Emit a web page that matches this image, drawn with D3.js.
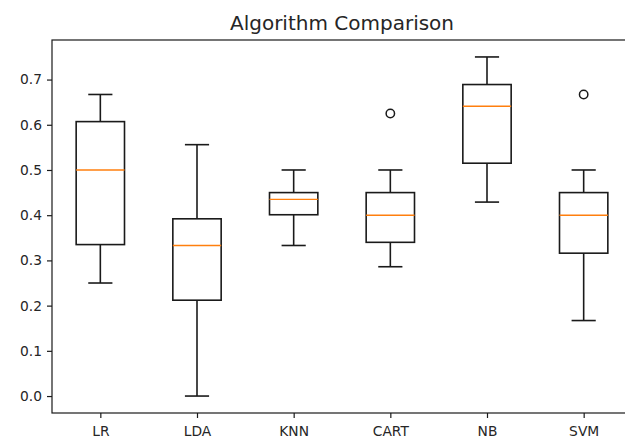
<!DOCTYPE html>
<html>
<head>
<meta charset="utf-8">
<script src="https://cdn.jsdelivr.net/npm/d3@7"></script>
<style>
  html, body { margin: 0; padding: 0; background: #fff; }
  svg { display: block; }
  text { font-family: "DejaVu Sans", sans-serif; fill: #262626; }
</style>
</head>
<body>
<script>
const title = "Algorithm Comparison";
const categories = ["LR", "LDA", "KNN", "CART", "NB", "SVM"];
const whiskerLow  = [0.250, 0.000, 0.333, 0.286, 0.429, 0.167];
const q1          = [0.335, 0.212, 0.401, 0.340, 0.515, 0.316];
const medians     = [0.500, 0.333, 0.435, 0.400, 0.641, 0.400];
const q3          = [0.607, 0.392, 0.450, 0.450, 0.689, 0.450];
const whiskerHigh = [0.667, 0.556, 0.500, 0.500, 0.750, 0.500];
const outliers    = [[], [], [], [0.625], [], [0.667]];
const yTicks = [0.0, 0.1, 0.2, 0.3, 0.4, 0.5, 0.6, 0.7];

const W = 625, H = 441;
const margin = { left: 52, right: -7, top: 40, bottom: 28 };

const svg = d3.select("body").append("svg").attr("width", W).attr("height", H);

const x = d3.scaleLinear().domain([0.5, 6.5]).range([margin.left, W - margin.right]);
const y = d3.scaleLinear().domain([-0.0375, 0.7875]).range([H - margin.bottom, margin.top]);

const data = categories.map((c, i) => ({
  c, i: i + 1, lo: whiskerLow[i], q1: q1[i], med: medians[i], q3: q3[i], hi: whiskerHigh[i], out: outliers[i]
}));

const boxW = x(1.25) - x(1);   // half box width (box width 0.5)
const capW = boxW / 2;
const lw = 1.6;
const stroke = "#1a1a1a";

const g = svg.append("g");
const groups = g.selectAll("g.box").data(data).enter().append("g").attr("class", "box");

// whiskers
groups.append("line")
  .attr("x1", d => x(d.i)).attr("x2", d => x(d.i))
  .attr("y1", d => y(d.q3)).attr("y2", d => y(d.hi))
  .attr("stroke", stroke).attr("stroke-width", lw);
groups.append("line")
  .attr("x1", d => x(d.i)).attr("x2", d => x(d.i))
  .attr("y1", d => y(d.q1)).attr("y2", d => y(d.lo))
  .attr("stroke", stroke).attr("stroke-width", lw);
// caps
groups.append("line")
  .attr("x1", d => x(d.i) - capW).attr("x2", d => x(d.i) + capW)
  .attr("y1", d => y(d.hi)).attr("y2", d => y(d.hi))
  .attr("stroke", stroke).attr("stroke-width", lw);
groups.append("line")
  .attr("x1", d => x(d.i) - capW).attr("x2", d => x(d.i) + capW)
  .attr("y1", d => y(d.lo)).attr("y2", d => y(d.lo))
  .attr("stroke", stroke).attr("stroke-width", lw);
// boxes
groups.append("rect")
  .attr("x", d => x(d.i) - boxW).attr("width", 2 * boxW)
  .attr("y", d => y(d.q3)).attr("height", d => y(d.q1) - y(d.q3))
  .attr("fill", "none").attr("stroke", stroke).attr("stroke-width", lw);
// medians
groups.append("line")
  .attr("x1", d => x(d.i) - boxW).attr("x2", d => x(d.i) + boxW)
  .attr("y1", d => y(d.med)).attr("y2", d => y(d.med))
  .attr("stroke", "#ff7f0e").attr("stroke-width", 1.4);
// outliers
groups.selectAll("circle").data(d => d.out.map(v => ({ i: d.i, v }))).enter().append("circle")
  .attr("cx", d => x(d.i)).attr("cy", d => y(d.v)).attr("r", 4.2)
  .attr("fill", "none").attr("stroke", stroke).attr("stroke-width", 1.5);

// axes
const yAxis = d3.axisLeft(y).tickValues(yTicks).tickFormat(d3.format(".1f")).tickSize(5).tickPadding(5);
const xAxis = d3.axisBottom(x).tickValues(data.map(d => d.i)).tickFormat((d, i) => categories[i]).tickSize(5).tickPadding(8);

const ya = svg.append("g").attr("transform", `translate(${margin.left},0)`).call(yAxis);
const xa = svg.append("g").attr("transform", `translate(0,${H - margin.bottom})`).call(xAxis);
[ya, xa].forEach(a => {
  a.select(".domain").remove();
  a.selectAll(".tick line").attr("stroke", stroke).attr("stroke-width", 1.2);
  a.selectAll(".tick text").style("font-size", "13.8px").style("font-family", "DejaVu Sans").attr("fill", "#262626");
});

// spines
const x0 = margin.left, x1 = W - margin.right, y0 = margin.top, y1 = H - margin.bottom;
svg.append("rect").attr("x", x0).attr("y", y0).attr("width", x1 - x0).attr("height", y1 - y0)
  .attr("fill", "none").attr("stroke", stroke).attr("stroke-width", 1.2);

// title
svg.append("text").attr("x", (x0 + x1) / 2).attr("y", 30)
  .attr("text-anchor", "middle").style("font-size", "20px").text(title);
</script>
</body>
</html>
